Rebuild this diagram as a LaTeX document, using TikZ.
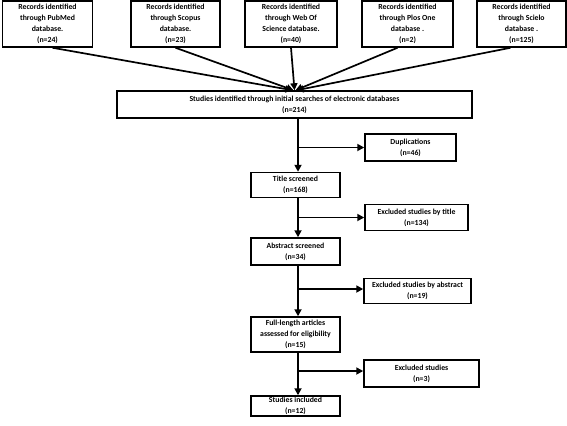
\documentclass[tikz,border=0pt]{standalone}
\usepackage{fontspec}
\setmainfont{Carlito}
\usetikzlibrary{arrows.meta}
\tikzset{
  box/.style={draw=black, line width=1.5bp, fill=white, align=center, inner sep=1bp,
    font=\bfseries\fontsize{7.8}{11.2}\selectfont},
  arr/.style={line width=1.7bp, -{Triangle[length=7bp,width=7bp]}},
}
\begin{document}
\begin{tikzpicture}[x=1bp,y=-1bp]
\useasboundingbox (0,0) rectangle (567,425);
% top boxes
\node[box, minimum width=90bp, minimum height=46bp] (pub) at (47.5,24) {Records identified\\through PubMed\\database.\\(n=24)};
\node[box, minimum width=89bp, minimum height=46bp] (sco) at (175.5,24) {Records identified\\through Scopus\\database.\\(n=23)};
\node[box, minimum width=92bp, minimum height=46bp] (wos) at (291,24) {Records identified\\through Web Of\\Science database.\\(n=40)};
\node[box, minimum width=91bp, minimum height=46bp] (plos) at (407.5,24) {Records identified\\through Plos One\\database .\\(n=2)};
\node[box, minimum width=89bp, minimum height=46bp] (sci) at (521.5,24) {Records identified\\through Scielo\\database .\\(n=125)};
% main
\node[box, minimum width=355bp, minimum height=27bp] (main) at (294.5,104.5) {Studies identified through initial searches of electronic databases\\(n=214)};
% flow
\node[box, minimum width=91bp, minimum height=27bp] (dup) at (410.5,147.5) {Duplications\\(n=46)};
\node[box, minimum width=89bp, minimum height=25bp] (title) at (295.5,185) {Title screened\\(n=168)};
\node[box, minimum width=103bp, minimum height=26bp] (extitle) at (416.5,217.5) {Excluded studies by title\\(n=134)};
\node[box, minimum width=89bp, minimum height=27bp] (abs) at (295.5,251.5) {Abstract screened\\(n=34)};
\node[box, minimum width=107bp, minimum height=25bp] (exabs) at (417.5,291) {Excluded studies by abstract\\(n=19)};
\node[box, minimum width=89bp, minimum height=35bp] (full) at (295.5,334.5) {Full-length articles\\assessed for eligibility\\(n=15)};
\node[box, minimum width=115bp, minimum height=27bp] (exst) at (421.5,373.5) {Excluded studies\\(n=3)};
\node[box, minimum width=89bp, minimum height=20bp] (inc) at (295.5,406) {Studies included\\(n=12)};
% converging arrows
\draw[arr] ([xshift=5bp]pub.south) -- ([xshift=-2bp]main.north);
\draw[arr] (sco.south) -- ([xshift=-1bp]main.north);
\draw[arr] (wos.south) -- (main.north);
\draw[arr] ([xshift=-10bp]plos.south) -- ([xshift=1bp]main.north);
\draw[arr] ([xshift=-11bp]sci.south) -- ([xshift=2bp]main.north);
% spine arrows
\draw[arr] ([xshift=2.5bp]main.south -| title.north) -- ([xshift=2.5bp]title.north);
\draw[arr] ([xshift=2.5bp]dup.west -| title.north) -- (dup.west);
\draw[arr] ([xshift=2.5bp]title.south) -- ([xshift=2.5bp]abs.north);
\draw[arr] ([xshift=2.5bp]extitle.west -| title.north) -- (extitle.west);
\draw[arr] ([xshift=2.5bp]abs.south) -- ([xshift=2.5bp]full.north);
\draw[arr] ([xshift=2.5bp,yshift=2bp]exabs.west -| abs.north) -- ([yshift=2bp]exabs.west);
\draw[arr] ([xshift=2.5bp]full.south) -- ([xshift=2.5bp]inc.north);
\draw[arr] ([xshift=2.5bp,yshift=2.5bp]exst.west -| full.north) -- ([yshift=2.5bp]exst.west);
\end{tikzpicture}
\end{document}
